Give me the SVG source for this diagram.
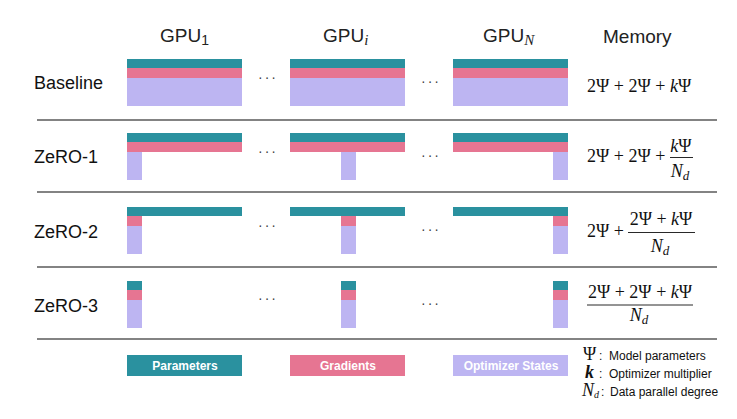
<svg xmlns="http://www.w3.org/2000/svg" width="737" height="419" viewBox="0 0 737 419">
<style>
.p{fill:#2A919F}.g{fill:#E67592}.o{fill:#BDB5F2}
.hd{font-family:"Liberation Sans",Arial,sans-serif;font-size:19px;fill:#222}
.lb{font-family:"Liberation Sans",Arial,sans-serif;font-size:18px;fill:#111}
.m{font-family:"Liberation Serif","Times New Roman",serif;font-size:18px;fill:#111}
.i{font-style:italic}
.dots{font-family:"Liberation Sans",Arial,sans-serif;font-size:14px;fill:#444;letter-spacing:2px;text-anchor:middle}
.sep{stroke:#5a5a5a;stroke-width:1.3}
.lg{font-family:"Liberation Sans",Arial,sans-serif;font-size:12px;font-weight:bold;fill:#fff;text-anchor:middle}
.lt{font-family:"Liberation Sans",Arial,sans-serif;font-size:12px;fill:#111}
.fr{stroke:#111;stroke-width:0.9}
</style>
<rect width="737" height="419" fill="#fff"/>

<g id="headers">
<text class="hd" x="160" y="42">GPU<tspan font-size="14" dy="3">1</tspan></text>
<text class="hd" x="323" y="42">GPU<tspan class="i" font-family="Liberation Serif,serif" font-size="15" dy="3">i</tspan></text>
<text class="hd" x="483" y="42">GPU<tspan class="i" font-family="Liberation Serif,serif" font-size="15" dy="3">N</tspan></text>
<text class="hd" x="603" y="43" font-size="23">Memory</text>
</g>

<g id="separators">
<line class="sep" x1="37" y1="120" x2="717" y2="120"/>
<line class="sep" x1="37" y1="192" x2="717" y2="192"/>
<line class="sep" x1="37" y1="267" x2="717" y2="267"/>
<line class="sep" x1="37" y1="339" x2="717" y2="339" stroke="#888"/>
</g>

<g id="row-baseline">
<text class="lb" x="34" y="89">Baseline</text>
<rect class="p" x="127" y="59" width="115" height="9"/>
<rect class="g" x="127" y="68" width="115" height="10"/>
<rect class="o" x="127" y="78" width="115" height="28"/>
<rect class="p" x="290" y="59" width="115" height="9"/>
<rect class="g" x="290" y="68" width="115" height="10"/>
<rect class="o" x="290" y="78" width="115" height="28"/>
<rect class="p" x="453" y="59" width="115" height="9"/>
<rect class="g" x="453" y="68" width="115" height="10"/>
<rect class="o" x="453" y="78" width="115" height="28"/>
<text class="dots" x="268" y="82">···</text>
<text class="dots" x="431" y="86">···</text>
<text class="m" x="587" y="92">2Ψ + 2Ψ + <tspan class="i">k</tspan>Ψ</text>
</g>

<g id="row-zero1">
<text class="lb" x="34" y="163">ZeRO-1</text>
<rect class="p" x="127" y="133" width="115" height="9"/>
<rect class="g" x="127" y="142" width="115" height="10"/>
<rect class="o" x="127" y="152" width="15" height="28"/>
<rect class="p" x="290" y="133" width="115" height="9"/>
<rect class="g" x="290" y="142" width="115" height="10"/>
<rect class="o" x="341" y="152" width="15" height="28"/>
<rect class="p" x="453" y="133" width="115" height="9"/>
<rect class="g" x="453" y="142" width="115" height="10"/>
<rect class="o" x="553" y="152" width="15" height="28"/>
<text class="dots" x="268" y="156">···</text>
<text class="dots" x="431" y="160">···</text>
<text class="m" x="587" y="162">2Ψ + 2Ψ +</text>
<text class="m" x="681" y="152" text-anchor="middle"><tspan class="i">k</tspan>Ψ</text>
<line class="fr" x1="670" y1="157.5" x2="693" y2="157.5"/>
<text class="m" x="680" y="177" text-anchor="middle"><tspan class="i">N</tspan><tspan class="i" font-size="13" dy="3">d</tspan></text>
</g>

<g id="row-zero2">
<text class="lb" x="34" y="238">ZeRO-2</text>
<rect class="p" x="127" y="207" width="115" height="9"/>
<rect class="g" x="127" y="216" width="15" height="10"/>
<rect class="o" x="127" y="226" width="15" height="28"/>
<rect class="p" x="290" y="207" width="115" height="9"/>
<rect class="g" x="341" y="216" width="15" height="10"/>
<rect class="o" x="341" y="226" width="15" height="28"/>
<rect class="p" x="453" y="207" width="115" height="9"/>
<rect class="g" x="553" y="216" width="15" height="10"/>
<rect class="o" x="553" y="226" width="15" height="28"/>
<text class="dots" x="268" y="230">···</text>
<text class="dots" x="431" y="234">···</text>
<text class="m" x="587" y="237">2Ψ +</text>
<text class="m" x="661" y="225" text-anchor="middle">2Ψ + <tspan class="i">k</tspan>Ψ</text>
<line class="fr" x1="628" y1="232.5" x2="695" y2="232.5"/>
<text class="m" x="660" y="252" text-anchor="middle"><tspan class="i">N</tspan><tspan class="i" font-size="13" dy="3">d</tspan></text>
</g>

<g id="row-zero3">
<text class="lb" x="34" y="312">ZeRO-3</text>
<rect class="p" x="127" y="281" width="15" height="9"/>
<rect class="g" x="127" y="290" width="15" height="10"/>
<rect class="o" x="127" y="300" width="15" height="28"/>
<rect class="p" x="341" y="281" width="15" height="9"/>
<rect class="g" x="341" y="290" width="15" height="10"/>
<rect class="o" x="341" y="300" width="15" height="28"/>
<rect class="p" x="553" y="281" width="15" height="9"/>
<rect class="g" x="553" y="290" width="15" height="10"/>
<rect class="o" x="553" y="300" width="15" height="28"/>
<text class="dots" x="268" y="303">···</text>
<text class="dots" x="431" y="308">···</text>
<text class="m" x="640" y="298" text-anchor="middle">2Ψ + 2Ψ + <tspan class="i">k</tspan>Ψ</text>
<line class="fr" x1="587" y1="305" x2="693" y2="305"/>
<text class="m" x="639" y="321" text-anchor="middle"><tspan class="i">N</tspan><tspan class="i" font-size="13" dy="3">d</tspan></text>
</g>

<g id="legend">
<rect class="p" x="127" y="355" width="115" height="21"/>
<text class="lg" x="185" y="370">Parameters</text>
<rect class="g" x="290" y="355" width="115" height="21"/>
<text class="lg" x="348" y="370">Gradients</text>
<rect class="o" x="453" y="355" width="115" height="21"/>
<text class="lg" x="511" y="370">Optimizer States</text>
</g>

<g id="notation">
<text class="m" x="583" y="360" font-size="13">Ψ</text>
<text class="lt" x="599" y="360">:</text>
<text class="lt" x="609" y="360">Model parameters</text>
<text class="m i" x="585" y="378" font-size="13" font-weight="bold">k</text>
<text class="lt" x="599" y="378">:</text>
<text class="lt" x="609" y="378">Optimizer multiplier</text>
<text class="m i" x="582" y="396" font-size="13">N<tspan font-size="10" dy="2">d</tspan></text>
<text class="lt" x="601" y="396">:</text>
<text class="lt" x="610" y="396">Data parallel degree</text>
</g>
</svg>
